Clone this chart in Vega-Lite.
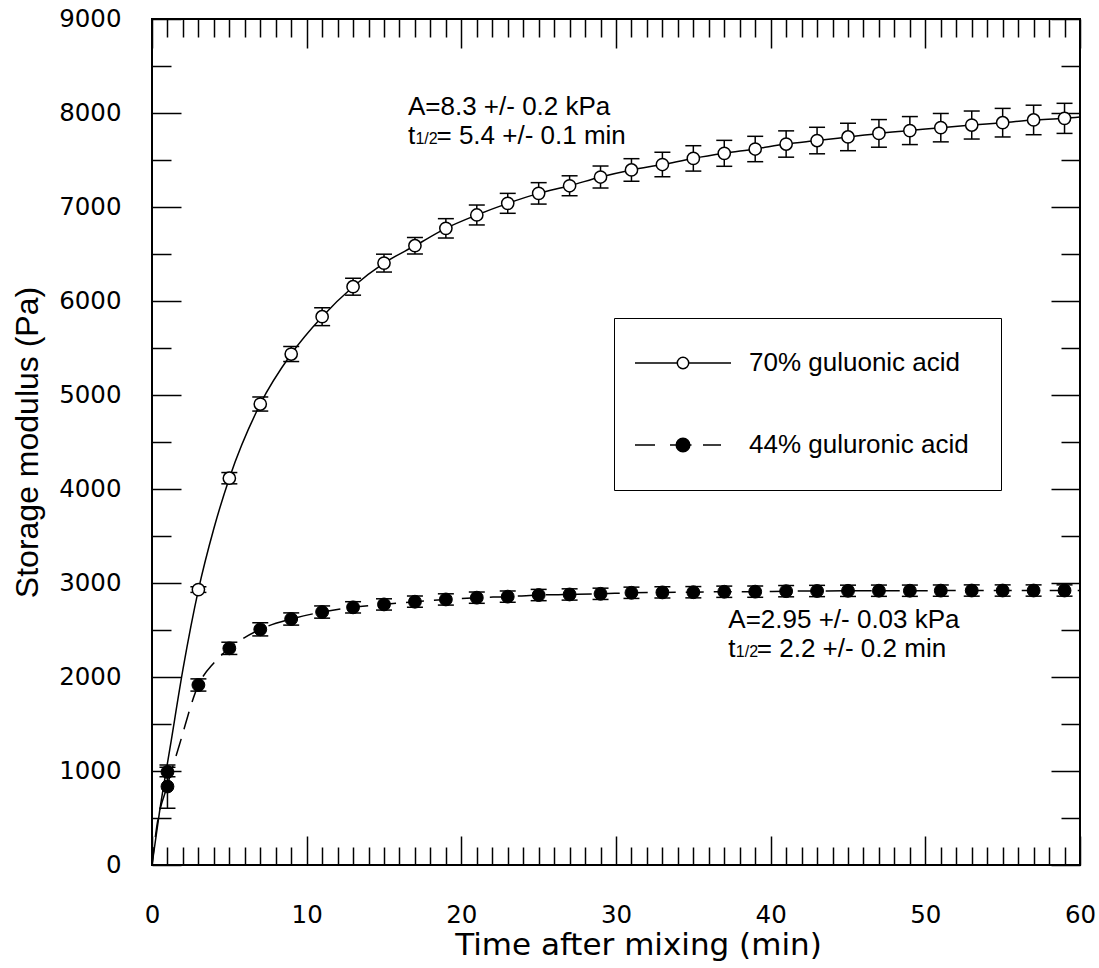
{
  "$schema": "https://vega.github.io/schema/vega-lite/v6.json",
  "width": 928,
  "height": 846,
  "autosize": {"type": "none"},
  "padding": {"left": 152, "top": 19, "right": 19, "bottom": 103},
  "background": "white",
  "config": {
    "font": "Liberation Sans",
    "view": {"stroke": "black", "strokeWidth": 2},
    "axis": {
      "domain": false,
      "grid": false,
      "tickColor": "black",
      "tickWidth": 1.5,
      "labelColor": "black",
      "labelFont": "DejaVu Sans",
      "labelFontSize": 24.5,
      "labelOverlap": false,
      "labelFlush": false,
      "titleFontWeight": "normal",
      "titleColor": "black"
    },
    "legend": {
      "orient": "none",
      "legendX": 462,
      "legendY": 299,
      "padding": 32,
      "symbolSize": 400,
      "symbolOffset": 24,
      "symbolStrokeColor": "black",
      "symbolStrokeWidth": 1.5,
      "labelOffset": 53,
      "labelLimit": 400,
      "rowPadding": 56,
      "labelFont": "Liberation Sans",
      "labelFontSize": 26,
      "labelColor": "black",
      "labelBaseline": "middle",
      "strokeColor": "black"
    }
  },
  "datasets": {
    "points": [
      {"t": 3, "G": 2930, "err": 30, "series": "70% guluonic acid"},
      {"t": 5, "G": 4115, "err": 60, "series": "70% guluonic acid"},
      {"t": 7, "G": 4904, "err": 75, "series": "70% guluonic acid"},
      {"t": 9, "G": 5436, "err": 80, "series": "70% guluonic acid"},
      {"t": 11, "G": 5833, "err": 95, "series": "70% guluonic acid"},
      {"t": 13, "G": 6152, "err": 90, "series": "70% guluonic acid"},
      {"t": 15, "G": 6403, "err": 95, "series": "70% guluonic acid"},
      {"t": 17, "G": 6588, "err": 87, "series": "70% guluonic acid"},
      {"t": 19, "G": 6773, "err": 103, "series": "70% guluonic acid"},
      {"t": 21, "G": 6915, "err": 106, "series": "70% guluonic acid"},
      {"t": 23, "G": 7039, "err": 106, "series": "70% guluonic acid"},
      {"t": 25, "G": 7145, "err": 114, "series": "70% guluonic acid"},
      {"t": 27, "G": 7226, "err": 106, "series": "70% guluonic acid"},
      {"t": 29, "G": 7319, "err": 117, "series": "70% guluonic acid"},
      {"t": 31, "G": 7394, "err": 120, "series": "70% guluonic acid"},
      {"t": 33, "G": 7452, "err": 131, "series": "70% guluonic acid"},
      {"t": 35, "G": 7517, "err": 135, "series": "70% guluonic acid"},
      {"t": 37, "G": 7571, "err": 138, "series": "70% guluonic acid"},
      {"t": 39, "G": 7617, "err": 135, "series": "70% guluonic acid"},
      {"t": 41, "G": 7670, "err": 140, "series": "70% guluonic acid"},
      {"t": 43, "G": 7707, "err": 141, "series": "70% guluonic acid"},
      {"t": 45, "G": 7745, "err": 146, "series": "70% guluonic acid"},
      {"t": 47, "G": 7783, "err": 147, "series": "70% guluonic acid"},
      {"t": 49, "G": 7813, "err": 149, "series": "70% guluonic acid"},
      {"t": 51, "G": 7844, "err": 151, "series": "70% guluonic acid"},
      {"t": 53, "G": 7872, "err": 149, "series": "70% guluonic acid"},
      {"t": 55, "G": 7897, "err": 152, "series": "70% guluonic acid"},
      {"t": 57, "G": 7926, "err": 157, "series": "70% guluonic acid"},
      {"t": 59, "G": 7943, "err": 160, "series": "70% guluonic acid"},
      {"t": 1, "G": 990, "err": 50, "series": "44% guluronic acid"},
      {"t": 1, "G": 835, "err": 230, "series": "44% guluronic acid"},
      {"t": 3, "G": 1915, "err": 65, "series": "44% guluronic acid"},
      {"t": 5, "G": 2305, "err": 65, "series": "44% guluronic acid"},
      {"t": 7, "G": 2507, "err": 70, "series": "44% guluronic acid"},
      {"t": 9, "G": 2617, "err": 65, "series": "44% guluronic acid"},
      {"t": 11, "G": 2691, "err": 65, "series": "44% guluronic acid"},
      {"t": 13, "G": 2741, "err": 60, "series": "44% guluronic acid"},
      {"t": 15, "G": 2772, "err": 60, "series": "44% guluronic acid"},
      {"t": 17, "G": 2801, "err": 60, "series": "44% guluronic acid"},
      {"t": 19, "G": 2825, "err": 60, "series": "44% guluronic acid"},
      {"t": 21, "G": 2844, "err": 60, "series": "44% guluronic acid"},
      {"t": 23, "G": 2855, "err": 60, "series": "44% guluronic acid"},
      {"t": 25, "G": 2872, "err": 60, "series": "44% guluronic acid"},
      {"t": 27, "G": 2878, "err": 60, "series": "44% guluronic acid"},
      {"t": 29, "G": 2885, "err": 60, "series": "44% guluronic acid"},
      {"t": 31, "G": 2896, "err": 60, "series": "44% guluronic acid"},
      {"t": 33, "G": 2900, "err": 60, "series": "44% guluronic acid"},
      {"t": 35, "G": 2902, "err": 60, "series": "44% guluronic acid"},
      {"t": 37, "G": 2907, "err": 60, "series": "44% guluronic acid"},
      {"t": 39, "G": 2908, "err": 60, "series": "44% guluronic acid"},
      {"t": 41, "G": 2913, "err": 60, "series": "44% guluronic acid"},
      {"t": 43, "G": 2915, "err": 60, "series": "44% guluronic acid"},
      {"t": 45, "G": 2917, "err": 60, "series": "44% guluronic acid"},
      {"t": 47, "G": 2918, "err": 60, "series": "44% guluronic acid"},
      {"t": 49, "G": 2918, "err": 60, "series": "44% guluronic acid"},
      {"t": 51, "G": 2919, "err": 60, "series": "44% guluronic acid"},
      {"t": 53, "G": 2920, "err": 60, "series": "44% guluronic acid"},
      {"t": 55, "G": 2920, "err": 60, "series": "44% guluronic acid"},
      {"t": 57, "G": 2920, "err": 60, "series": "44% guluronic acid"},
      {"t": 59, "G": 2920, "err": 60, "series": "44% guluronic acid"}
    ],
    "fit": [
      {"t": 0, "G": 0, "series": "70"},
      {"t": 0.5, "G": 580, "series": "70"},
      {"t": 1.2, "G": 1280, "series": "70"},
      {"t": 2, "G": 2080, "series": "70"},
      {"t": 3, "G": 2926, "series": "70"},
      {"t": 4, "G": 3580, "series": "70"},
      {"t": 5, "G": 4115, "series": "70"},
      {"t": 7, "G": 4904, "series": "70"},
      {"t": 9, "G": 5436, "series": "70"},
      {"t": 11, "G": 5833, "series": "70"},
      {"t": 13, "G": 6152, "series": "70"},
      {"t": 15, "G": 6403, "series": "70"},
      {"t": 17, "G": 6588, "series": "70"},
      {"t": 19, "G": 6773, "series": "70"},
      {"t": 21, "G": 6915, "series": "70"},
      {"t": 23, "G": 7039, "series": "70"},
      {"t": 25, "G": 7145, "series": "70"},
      {"t": 27, "G": 7226, "series": "70"},
      {"t": 29, "G": 7319, "series": "70"},
      {"t": 31, "G": 7394, "series": "70"},
      {"t": 33, "G": 7452, "series": "70"},
      {"t": 35, "G": 7517, "series": "70"},
      {"t": 37, "G": 7571, "series": "70"},
      {"t": 39, "G": 7617, "series": "70"},
      {"t": 41, "G": 7670, "series": "70"},
      {"t": 43, "G": 7707, "series": "70"},
      {"t": 45, "G": 7745, "series": "70"},
      {"t": 47, "G": 7783, "series": "70"},
      {"t": 49, "G": 7813, "series": "70"},
      {"t": 51, "G": 7844, "series": "70"},
      {"t": 53, "G": 7872, "series": "70"},
      {"t": 55, "G": 7897, "series": "70"},
      {"t": 57, "G": 7926, "series": "70"},
      {"t": 59, "G": 7943, "series": "70"},
      {"t": 60, "G": 7958, "series": "70"},
      {"t": 0, "G": 0, "series": "44"},
      {"t": 0.3, "G": 400, "series": "44"},
      {"t": 1, "G": 850, "series": "44"},
      {"t": 1.75, "G": 1266, "series": "44"},
      {"t": 3, "G": 1915, "series": "44"},
      {"t": 4, "G": 2150, "series": "44"},
      {"t": 5, "G": 2305, "series": "44"},
      {"t": 7, "G": 2507, "series": "44"},
      {"t": 9, "G": 2617, "series": "44"},
      {"t": 11, "G": 2691, "series": "44"},
      {"t": 13, "G": 2741, "series": "44"},
      {"t": 15, "G": 2772, "series": "44"},
      {"t": 17, "G": 2801, "series": "44"},
      {"t": 19, "G": 2825, "series": "44"},
      {"t": 21, "G": 2844, "series": "44"},
      {"t": 23, "G": 2855, "series": "44"},
      {"t": 25, "G": 2872, "series": "44"},
      {"t": 27, "G": 2878, "series": "44"},
      {"t": 29, "G": 2885, "series": "44"},
      {"t": 31, "G": 2896, "series": "44"},
      {"t": 33, "G": 2900, "series": "44"},
      {"t": 35, "G": 2902, "series": "44"},
      {"t": 37, "G": 2907, "series": "44"},
      {"t": 39, "G": 2908, "series": "44"},
      {"t": 41, "G": 2913, "series": "44"},
      {"t": 43, "G": 2915, "series": "44"},
      {"t": 45, "G": 2917, "series": "44"},
      {"t": 47, "G": 2918, "series": "44"},
      {"t": 49, "G": 2918, "series": "44"},
      {"t": 51, "G": 2919, "series": "44"},
      {"t": 53, "G": 2920, "series": "44"},
      {"t": 55, "G": 2920, "series": "44"},
      {"t": 57, "G": 2920, "series": "44"},
      {"t": 59, "G": 2920, "series": "44"},
      {"t": 60, "G": 2921, "series": "44"}
    ],
    "notes": [
      {"t": 16.55, "G": 7979, "line1": "A=8.3 +/- 0.2 kPa", "rest": "= 5.4 +/- 0.1 min"},
      {"t": 37.26, "G": 2518, "line1": "A=2.95 +/- 0.03 kPa", "rest": "= 2.2 +/- 0.2 min"}
    ]
  },
  "layer": [
    {
      "data": {"name": "fit"},
      "transform": [{"filter": "datum.series === '70'"}],
      "mark": {"type": "line", "color": "black", "strokeWidth": 1.5, "interpolate": "monotone"},
      "encoding": {
        "x": {
          "field": "t", "type": "quantitative",
          "scale": {"domain": [0, 60], "nice": false},
          "axis": {
            "orient": "bottom",
            "values": [0,1,2,3,4,5,6,7,8,9,10,11,12,13,14,15,16,17,18,19,20,21,22,23,24,25,26,27,28,29,30,31,32,33,34,35,36,37,38,39,40,41,42,43,44,45,46,47,48,49,50,51,52,53,54,55,56,57,58,59,60],
            "tickSize": {"condition": {"test": "datum.value % 10 === 0", "value": -29}, "value": -18},
            "labelExpr": "datum.value % 10 === 0 ? datum.label : ''",
            "labelPadding": 67,
            "title": "Time after mixing (min)",
            "titleFont": "DejaVu Sans",
            "titleFontSize": 31,
            "titleX": 486,
            "titlePadding": -7
          }
        },
        "y": {
          "field": "G", "type": "quantitative",
          "scale": {"domain": [0, 9000], "nice": false},
          "axis": {
            "orient": "left",
            "values": [0,500,1000,1500,2000,2500,3000,3500,4000,4500,5000,5500,6000,6500,7000,7500,8000,8500,9000],
            "tickSize": {"condition": {"test": "datum.value % 1000 === 0", "value": -29}, "value": -19},
            "labelExpr": "datum.value % 1000 === 0 ? datum.label : ''",
            "format": "d",
            "labelPadding": 60,
            "title": "Storage modulus (Pa)",
            "titleFont": "Liberation Sans",
            "titleFontSize": 32,
            "titlePadding": 14
          }
        }
      }
    },
    {
      "data": {"name": "fit"},
      "transform": [{"filter": "datum.series === '44'"}],
      "mark": {"type": "line", "color": "black", "strokeWidth": 1.5, "strokeDash": [18, 10], "interpolate": "monotone"},
      "encoding": {
        "x": {
          "field": "t", "type": "quantitative",
          "axis": {
            "orient": "top",
            "values": [0,1,2,3,4,5,6,7,8,9,10,11,12,13,14,15,16,17,18,19,20,21,22,23,24,25,26,27,28,29,30,31,32,33,34,35,36,37,38,39,40,41,42,43,44,45,46,47,48,49,50,51,52,53,54,55,56,57,58,59,60],
            "tickSize": {"condition": {"test": "datum.value % 10 === 0", "value": -29}, "value": -18},
            "labels": false,
            "title": null
          }
        },
        "y": {
          "field": "G", "type": "quantitative",
          "axis": {
            "orient": "right",
            "values": [0,500,1000,1500,2000,2500,3000,3500,4000,4500,5000,5500,6000,6500,7000,7500,8000,8500,9000],
            "tickSize": {"condition": {"test": "datum.value % 1000 === 0", "value": -29}, "value": -19},
            "labels": false,
            "title": null
          }
        }
      }
    },
    {
      "data": {"name": "points"},
      "transform": [{"calculate": "datum.G - datum.err", "as": "lo"}, {"calculate": "datum.G + datum.err", "as": "hi"}],
      "mark": {"type": "rule", "color": "black", "strokeWidth": 1.5},
      "encoding": {
        "x": {"field": "t", "type": "quantitative", "axis": null},
        "y": {"field": "lo", "type": "quantitative", "axis": null},
        "y2": {"field": "hi"}
      }
    },
    {
      "data": {"name": "points"},
      "transform": [{"calculate": "datum.G - datum.err", "as": "lo"}],
      "mark": {"type": "tick", "orient": "horizontal", "color": "black", "size": 16, "thickness": 1.5, "opacity": 1},
      "encoding": {
        "x": {"field": "t", "type": "quantitative", "axis": null},
        "y": {"field": "lo", "type": "quantitative", "axis": null}
      }
    },
    {
      "data": {"name": "points"},
      "transform": [{"calculate": "datum.G + datum.err", "as": "hi"}],
      "mark": {"type": "tick", "orient": "horizontal", "color": "black", "size": 16, "thickness": 1.5, "opacity": 1},
      "encoding": {
        "x": {"field": "t", "type": "quantitative", "axis": null},
        "y": {"field": "hi", "type": "quantitative", "axis": null}
      }
    },
    {
      "data": {"name": "points"},
      "transform": [{"filter": "datum.series === '70% guluonic acid'"}],
      "mark": {"type": "point", "shape": "circle", "filled": true, "fill": "white", "size": 150, "stroke": "black", "strokeWidth": 1.5, "opacity": 1},
      "encoding": {
        "x": {"field": "t", "type": "quantitative", "axis": null},
        "y": {"field": "G", "type": "quantitative", "axis": null}
      }
    },
    {
      "data": {"name": "points"},
      "transform": [{"filter": "datum.series === '44% guluronic acid'"}],
      "mark": {"type": "point", "shape": "circle", "filled": true, "fill": "black", "size": 165, "stroke": "black", "strokeWidth": 1, "opacity": 1},
      "encoding": {
        "x": {"field": "t", "type": "quantitative", "axis": null},
        "y": {"field": "G", "type": "quantitative", "axis": null}
      }
    },
    {
      "data": {"name": "points"},
      "transform": [{"filter": "false"}],
      "mark": {"type": "point", "filled": true, "strokeWidth": 1.5, "opacity": 1},
      "encoding": {
        "x": {"field": "t", "type": "quantitative", "axis": null},
        "y": {"field": "G", "type": "quantitative", "axis": null},
        "shape": {
          "field": "series", "type": "nominal",
          "scale": {
            "domain": ["70% guluonic acid", "44% guluronic acid"],
            "range": [
              "M-4.8 0H-0.57M0.57 0H4.8M0.57 0A0.57 0.57 0 1 1 -0.57 0A0.57 0.57 0 1 1 0.57 0Z",
              "M-4.8 0H-2.8M-1.3 0H-0.68M0.68 0H0.85M2 0H3.8M0.68 0A0.68 0.68 0 1 1 -0.68 0A0.68 0.68 0 1 1 0.68 0Z"
            ]
          },
          "legend": {"title": null}
        },
        "fill": {
          "field": "series", "type": "nominal",
          "scale": {"domain": ["70% guluonic acid", "44% guluronic acid"], "range": ["white", "black"]},
          "legend": {"title": null}
        },
        "stroke": {
          "field": "series", "type": "nominal",
          "scale": {"domain": ["70% guluonic acid", "44% guluronic acid"], "range": ["black", "black"]},
          "legend": {"title": null}
        }
      }
    },
    {
      "data": {"name": "notes"},
      "mark": {"type": "text", "align": "left", "baseline": "alphabetic", "font": "Liberation Sans", "fontSize": 26, "color": "black"},
      "encoding": {
        "x": {"field": "t", "type": "quantitative", "axis": null},
        "y": {"field": "G", "type": "quantitative", "axis": null},
        "text": {"field": "line1"}
      }
    },
    {
      "data": {"name": "notes"},
      "mark": {"type": "text", "align": "left", "baseline": "alphabetic", "font": "Liberation Sans", "fontSize": 26, "color": "black", "dy": 29},
      "encoding": {
        "x": {"field": "t", "type": "quantitative", "axis": null},
        "y": {"field": "G", "type": "quantitative", "axis": null},
        "text": {"value": "t"}
      }
    },
    {
      "data": {"name": "notes"},
      "mark": {"type": "text", "align": "left", "baseline": "alphabetic", "font": "Liberation Sans", "fontSize": 16, "color": "black", "dx": 7.5, "dy": 29},
      "encoding": {
        "x": {"field": "t", "type": "quantitative", "axis": null},
        "y": {"field": "G", "type": "quantitative", "axis": null},
        "text": {"value": "1/2"}
      }
    },
    {
      "data": {"name": "notes"},
      "mark": {"type": "text", "align": "left", "baseline": "alphabetic", "font": "Liberation Sans", "fontSize": 26, "color": "black", "dx": 28.5, "dy": 29},
      "encoding": {
        "x": {"field": "t", "type": "quantitative", "axis": null},
        "y": {"field": "G", "type": "quantitative", "axis": null},
        "text": {"field": "rest"}
      }
    }
  ],
  "resolve": {"axis": {"x": "independent", "y": "independent"}}
}
